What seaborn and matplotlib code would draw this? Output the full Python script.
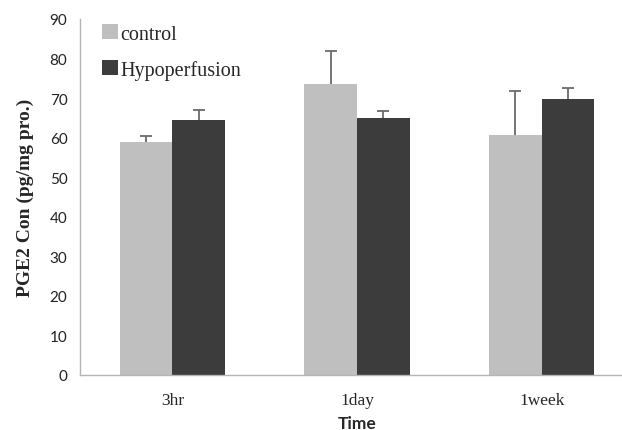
import matplotlib
matplotlib.use("Agg")
import matplotlib.pyplot as plt
import seaborn as sns
import pandas as pd
import numpy as np

times = ["3hr", "1day", "1week"]
groups = ["control", "Hypoperfusion"]
control_vals = [58.9, 73.5, 60.8]
hypo_vals = [64.5, 64.9, 69.7]
control_err = [1.6, 8.4, 11.1]
hypo_err = [2.4, 1.8, 2.9]
colors = ["#BFBFBF", "#3C3C3C"]

df = pd.DataFrame({
    "Time": times * 2,
    "Group": [groups[0]] * 3 + [groups[1]] * 3,
    "Value": control_vals + hypo_vals,
})

sns.set_style("white")
fig = plt.figure(figsize=(6.22, 4.31), dpi=100)
ax = fig.add_axes([80 / 622, 1 - 376 / 431, 554 / 622, (376 - 20) / 431])

sns.barplot(data=df, x="Time", y="Value", hue="Group", order=times,
            hue_order=groups, palette=colors, width=0.57, errorbar=None,
            saturation=1, ax=ax, linewidth=0)

errs = control_err + hypo_err
bars = [p for p in ax.patches if p.get_height() > 0][:6]
for p, e in zip(bars, errs):
    xc = p.get_x() + p.get_width() / 2
    cont = ax.errorbar(xc, p.get_height(), yerr=[[0], [e]], fmt="none",
                       ecolor="#6A6A6A", elinewidth=1.3, capsize=4,
                       capthick=1.3, zorder=3)
    caps = cont.lines[1]
    if len(caps) >= 2:
        caps[0].set_visible(False)

ax.set_xlim(-0.5, 2.5)
ax.set_ylim(0, 90)
ax.set_yticks(np.arange(0, 91, 10))
ax.set_xticks([0, 1, 2])
ax.set_xticklabels(times, fontfamily="Liberation Serif", fontsize=12.5)
ax.set_xticks([-0.5, 0.5, 1.5, 2.5], minor=True)
ax.tick_params(axis="x", which="major", length=0, pad=12)
ax.tick_params(axis="x", which="minor", length=5, color="#A0A0A0", width=1, direction="out")
ax.tick_params(axis="y", length=5, color="#A0A0A0", width=1, direction="out", pad=4)
for lab in ax.get_yticklabels():
    lab.set_fontfamily("Lato")
    lab.set_fontsize(11)
    lab.set_color("#222222")

for s in ["top", "right"]:
    ax.spines[s].set_visible(False)
for s in ["left", "bottom"]:
    ax.spines[s].set_color("#B5B5B5")
    ax.spines[s].set_linewidth(1)

ax.set_ylabel("PGE2 Con (pg/mg pro.)", fontfamily="Liberation Serif",
              fontweight="bold", fontsize=14, labelpad=11)
ax.set_xlabel("Time", fontfamily="Lato", fontweight="bold", fontsize=12.5, labelpad=5)

leg = ax.legend(loc="upper left", bbox_to_anchor=(0.018, 1.02), frameon=False,
                prop={"family": "Liberation Serif", "size": 14.5},
                handlelength=0.8, handleheight=0.8, handletextpad=0.12,
                labelspacing=0.8, borderaxespad=0.2)

fig.savefig("out.png", dpi=100)
